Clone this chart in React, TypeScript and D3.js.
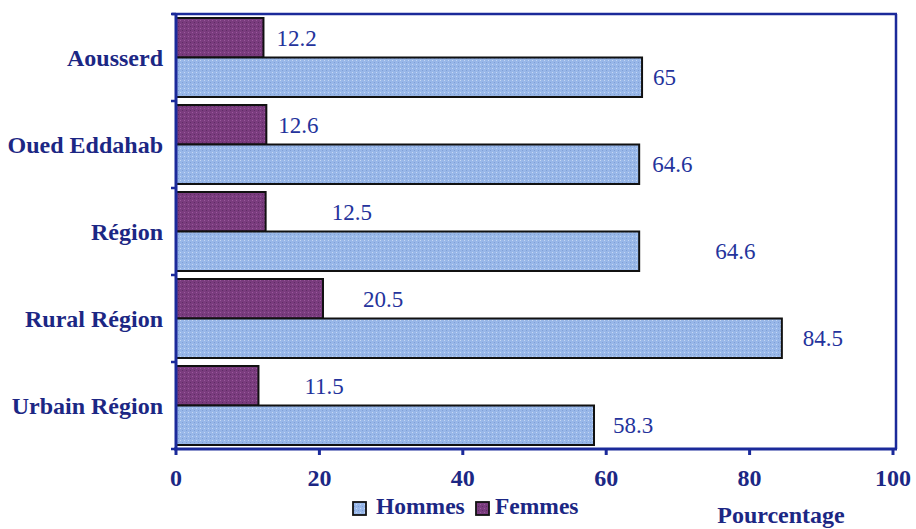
import React from "react";
import * as d3 from "d3";

const categories = ["Aousserd", "Oued Eddahab", "Région", "Rural Région", "Urbain Région"];
const hommes = [65, 64.6, 64.6, 84.5, 58.3];
const femmes = [12.2, 12.6, 12.5, 20.5, 11.5];
const xTicks = [0, 20, 40, 60, 80, 100];
const series = ["Femmes", "Hommes"];
// label gap from bar end, in px (as placed in the original)
const femmesLabelGap = [13, 12, 66, 40, 46];
const hommesLabelGap = [11, 13, 76, 21, 19];

const W = 916;
const H = 529;
const left = 176;
const right = 893;
const top = 14;
const bottom = 449;

const AXIS = "#1b2a9a";
const TEXT = "#1c2784";
const VAL = "#24339c";
const HOM = "#98b7e8";
const FEM = "#7a3c7e";
const FONT = "'Liberation Serif', 'Times New Roman', serif";

export default function App() {
  const x = d3.scaleLinear().domain([0, 100]).range([left, right]);
  const y = d3
    .scaleBand<string>()
    .domain(categories)
    .range([top, bottom])
    .paddingInner(0.092)
    .paddingOuter(0.046);
  const sub = d3.scaleBand<string>().domain(series).range([0, y.bandwidth()]);
  const step = y.step();
  const boundaries = d3.range(categories.length + 1).map((i) => top + i * step);

  return (
    <svg width={W} height={H} style={{ position: "absolute", left: 0, top: 0, background: "#fff" }}>
      <defs>
        <pattern id="homTex" width="4" height="4" patternUnits="userSpaceOnUse">
          <rect width="4" height="4" fill={HOM} />
          <rect x="0" y="0" width="1" height="1" fill="#c6d8f4" />
          <rect x="2" y="2" width="1" height="1" fill="#7f9fd6" />
        </pattern>
        <pattern id="femTex" width="4" height="4" patternUnits="userSpaceOnUse">
          <rect width="4" height="4" fill={FEM} />
          <rect x="0" y="0" width="1" height="1" fill="#9a5a9c" />
          <rect x="2" y="2" width="1" height="1" fill="#5e2c64" />
        </pattern>
      </defs>

      {/* bars */}
      {categories.map((c, i) => {
        const by = y(c)!;
        const fy = by + sub("Femmes")!;
        const hy = by + sub("Hommes")!;
        const bh = sub.bandwidth();
        return (
          <g key={c}>
            <rect x={x(0)} y={fy} width={x(femmes[i]) - x(0)} height={bh} fill="url(#femTex)" stroke="#111" strokeWidth={2} />
            <rect x={x(0)} y={hy} width={x(hommes[i]) - x(0)} height={bh} fill="url(#homTex)" stroke="#111" strokeWidth={2} />
            <text x={x(femmes[i]) + femmesLabelGap[i]} y={fy + bh / 2} dy="0.35em" fill={VAL} fontFamily={FONT} fontSize={23}>
              {femmes[i]}
            </text>
            <text x={x(hommes[i]) + hommesLabelGap[i]} y={hy + bh / 2} dy="0.35em" fill={VAL} fontFamily={FONT} fontSize={23}>
              {hommes[i]}
            </text>
            <text x={163} y={by + y.bandwidth() / 2} dy="0.35em" textAnchor="end" fill={TEXT} fontFamily={FONT} fontWeight="bold" fontSize={24}>
              {c}
            </text>
          </g>
        );
      })}

      {/* frame */}
      <line x1={172} x2={right + 4} y1={top} y2={top} stroke={AXIS} strokeWidth={2.5} />
      <line x1={right + 3} x2={right + 3} y1={top} y2={bottom} stroke={AXIS} strokeWidth={2.5} />
      {/* y axis */}
      <line x1={left} x2={left} y1={top} y2={bottom + 1} stroke={AXIS} strokeWidth={3} />
      {boundaries.map((b, i) => (
        <line key={i} x1={171} x2={left} y1={b} y2={b} stroke={AXIS} strokeWidth={2.5} />
      ))}
      {/* x axis */}
      <line x1={left - 2} x2={right + 4} y1={bottom} y2={bottom} stroke={AXIS} strokeWidth={3} />
      {xTicks.map((t) => (
        <g key={t}>
          <line x1={x(t)} x2={x(t)} y1={bottom} y2={bottom + 6} stroke={AXIS} strokeWidth={3} />
          <text x={x(t)} y={486} textAnchor="middle" fill={TEXT} fontFamily={FONT} fontWeight="bold" fontSize={24}>
            {t}
          </text>
        </g>
      ))}

      {/* legend */}
      <rect x={353} y={502} width={13} height={13} fill="url(#homTex)" stroke="#111" strokeWidth={1.8} />
      <text x={376} y={514} fill={TEXT} fontFamily={FONT} fontWeight="bold" fontSize={23.5}>
        Hommes
      </text>
      <rect x={476} y={502} width={13} height={13} fill="url(#femTex)" stroke="#111" strokeWidth={1.8} />
      <text x={495} y={514} fill={TEXT} fontFamily={FONT} fontWeight="bold" fontSize={23.5}>
        Femmes
      </text>

      <text x={781} y={523} textAnchor="middle" fill={TEXT} fontFamily={FONT} fontWeight="bold" fontSize={24}>
        Pourcentage
      </text>
    </svg>
  );
}
